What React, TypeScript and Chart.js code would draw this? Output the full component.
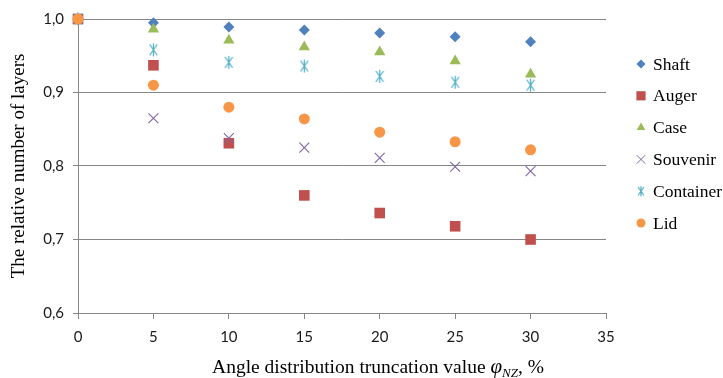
import React, { useEffect, useRef } from 'react';
import { Chart, registerables } from 'chart.js';
import { drawPoint } from 'chart.js/helpers';

Chart.register(...registerables);

const truncation = [0, 5, 10, 15, 20, 25, 30];
const shaft = [1.0, 0.995, 0.989, 0.985, 0.981, 0.976, 0.969];
const auger = [1.0, 0.937, 0.831, 0.76, 0.736, 0.718, 0.7];
const caseV = [1.0, 0.986, 0.971, 0.962, 0.955, 0.943, 0.925];
const souvenir = [1.0, 0.865, 0.838, 0.825, 0.811, 0.799, 0.793];
const container = [1.0, 0.958, 0.941, 0.936, 0.922, 0.914, 0.91];
const lid = [1.0, 0.91, 0.88, 0.864, 0.846, 0.833, 0.822];

const seriesNames = ['Shaft', 'Auger', 'Case', 'Souvenir', 'Container', 'Lid'];
const xTicks = [0, 5, 10, 15, 20, 25, 30, 35];
const yTicks = [0.6, 0.7, 0.8, 0.9, 1.0];
const xTitleMain = 'Angle distribution truncation value ';
const xTitleSymbol = 'φ';
const xTitleSub = 'NZ';
const xTitleTail = ', %';
const yTitle = 'The relative number of layers';

function makeAsterisk(size: number, color: string) {
  const c = document.createElement('canvas');
  c.width = size;
  c.height = size;
  const g = c.getContext('2d')!;
  g.strokeStyle = color;
  g.lineWidth = 1.2;
  const h = size / 2;
  const a = h - 1;
  const d = a * 0.85;
  g.beginPath();
  g.moveTo(h - d * 0.7, h - d);
  g.lineTo(h + d * 0.7, h + d);
  g.moveTo(h + d * 0.7, h - d);
  g.lineTo(h - d * 0.7, h + d);
  g.moveTo(h, h - a);
  g.lineTo(h, h + a);
  g.stroke();
  return c;
}

export default function App() {
  const ref = useRef<HTMLCanvasElement | null>(null);
  useEffect(() => {
    const canvas = ref.current!;
    const star = makeAsterisk(15, '#4BACC6');
    const starSmall = makeAsterisk(12, '#4BACC6');
    const values = [shaft, auger, caseV, souvenir, container, lid];
    const colors = ['#4F81BD', '#C0504D', '#9BBB59', '#8064A2', '#4BACC6', '#F79646'];
    const styles: any[] = ['rectRot', 'rect', 'triangle', 'crossRot', star, 'circle'];
    const radii = [5.5, 7.5, 6.5, 7, 6, 5.5];
    const legendStyles: any[] = ['rectRot', 'rect', 'triangle', 'crossRot', starSmall, 'circle'];
    const legendRadii = [4.5, 6.5, 5, 6, 5, 4.5];
    const orders = [5, 4, 3, 2, 1, 0];

    const datasets = seriesNames.map((name, i) => ({
      label: name,
      data: truncation.map((x, j) => ({ x, y: values[i][j] })),
      backgroundColor: colors[i],
      borderColor: colors[i],
      pointStyle: styles[i],
      pointRadius: radii[i],
      pointBorderWidth: i === 3 ? 1.1 : 0,
      showLine: false,
      clip: false as any,
      order: orders[i],
    }));

    const legendPlugin = {
      id: 'customLegend',
      afterDraw(chart: any) {
        const ctx = chart.ctx;
        ctx.save();
        const x0 = 641;
        const y0 = 64;
        const step = 31.8;
        seriesNames.forEach((name, i) => {
          const y = y0 + i * step;
          ctx.fillStyle = colors[i];
          ctx.strokeStyle = colors[i];
          ctx.lineWidth = 1;
          const st = legendStyles[i];
          if (typeof st === 'string') {
            drawPoint(ctx, { pointStyle: st, radius: legendRadii[i], borderWidth: i === 3 ? 1 : 0, rotation: 0 } as any, x0, y);
          } else {
            ctx.drawImage(st, x0 - st.width / 2, y - st.height / 2);
          }
        });
        ctx.fillStyle = '#000';
        ctx.font = 'normal 400 17.5px "Liberation Serif"';
        ctx.textBaseline = 'middle';
        ctx.textAlign = 'left';
        seriesNames.forEach((name, i) => {
          const y = y0 + i * step;
          ctx.fillText(name, 653, y + 1);
        });
        ctx.restore();
      },
    };

    const xTitlePlugin = {
      id: 'xTitle',
      afterDraw(chart: any) {
        const ctx = chart.ctx;
        ctx.save();
        ctx.fillStyle = '#000';
        ctx.textBaseline = 'alphabetic';
        ctx.textAlign = 'left';
        const fMain = 'normal 400 19.5px "Liberation Serif"';
        const fIt = 'italic 400 21px "Liberation Serif"';
        const fSub = 'italic 400 13px "Liberation Serif"';
        ctx.font = fMain;
        const w1 = ctx.measureText(xTitleMain).width;
        const w4 = ctx.measureText(xTitleTail).width;
        ctx.font = fIt;
        const w2 = ctx.measureText(xTitleSymbol).width;
        ctx.font = fSub;
        const w3 = ctx.measureText(xTitleSub).width;
        const total = w1 + w2 + w3 + w4;
        const cx = 378;
        const base = 373;
        let x = cx - total / 2;
        ctx.font = fMain;
        ctx.fillText(xTitleMain, x, base);
        x += w1;
        ctx.font = fIt;
        ctx.fillText(xTitleSymbol, x, base);
        x += w2;
        ctx.font = fSub;
        ctx.fillText(xTitleSub, x, base + 4);
        x += w3;
        ctx.font = fMain;
        ctx.fillText(xTitleTail, x, base);
        ctx.restore();
      },
    };

    const chart = new Chart(canvas, {
      type: 'scatter',
      data: { datasets },
      plugins: [legendPlugin, xTitlePlugin],
      options: {
        responsive: false,
        animation: false,
        devicePixelRatio: 1,
        layout: { padding: { left: 0, top: 19, right: 117, bottom: 0 } },
        plugins: {
          legend: { display: false },
          tooltip: { enabled: false },
        },
        scales: {
          x: {
            type: 'linear',
            min: 0,
            max: 35,
            afterBuildTicks: (scale: any) => {
              scale.ticks = xTicks.map((v) => ({ value: v }));
            },
            afterFit: (scale: any) => {
              scale.height = 65;
            },
            ticks: {
              font: { family: 'Lato', size: 15 },
              color: '#1a1a1a',
              padding: 9,
              maxRotation: 0,
            },
            grid: {
              drawOnChartArea: false,
              drawTicks: true,
              tickLength: 6,
              color: '#868686',
            },
            border: { color: '#868686', width: 1 },
          },
          y: {
            type: 'linear',
            min: 0.6,
            max: 1.0,
            afterBuildTicks: (scale: any) => {
              scale.ticks = yTicks.map((v) => ({ value: v }));
            },
            afterFit: (scale: any) => {
              scale.width = 78;
            },
            ticks: {
              font: { family: 'Lato', size: 15 },
              color: '#1a1a1a',
              padding: 9,
              callback: (v: any) => Number(v).toFixed(1).replace('.', ','),
            },
            grid: {
              color: '#868686',
              tickLength: 5,
            },
            border: { color: '#868686', width: 1 },
            title: {
              display: true,
              text: yTitle,
              font: { family: '"Liberation Serif"', size: 19 },
              color: '#000',
              padding: { top: 8, bottom: 0 },
            },
          },
        },
      },
    });
    return () => chart.destroy();
  }, []);

  return (
    <canvas
      ref={ref}
      width={723}
      height={378}
      style={{ position: 'absolute', left: 0, top: 0, width: 723, height: 378, display: 'block' }}
    />
  );
}
